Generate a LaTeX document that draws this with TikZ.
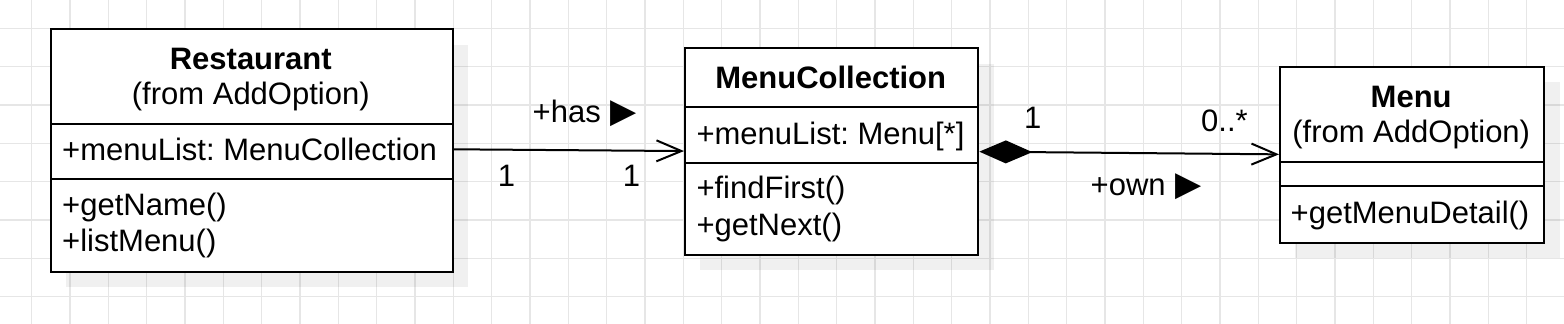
\documentclass[tikz,border=0pt]{standalone}
\usepackage{fontspec}
\setmainfont{Liberation Sans}
\newfontfamily\symfont{DejaVu Sans}
\usetikzlibrary{arrows.meta}
\begin{document}
\frenchspacing
\begin{tikzpicture}[x=1pt,y=-1pt,
  gridline/.style={draw={rgb,255:red,230;green,230;blue,230}, line width=1.2pt},
  shadowbox/.style={fill=black, fill opacity=0.06, draw=none, inner sep=0pt, anchor=north west},
  classbox/.style={draw=black, line width=2pt, fill=white, inner sep=0pt, anchor=north west},
  divider/.style={draw=black, line width=2pt},
  txt/.style={inner sep=0pt, font=\fontsize{31}{36}\selectfont},
  lefttxt/.style={txt, anchor=base west},
  midtxt/.style={txt, anchor=base},
  conn/.style={draw=black, line width=2pt},
  openhead/.style={-{Straight Barb[length=25pt,width=21pt]}},
  comphead/.style={{Diamond[length=53pt,width=23pt,fill=black]}-{Straight Barb[length=25pt,width=21pt]}}
]
\useasboundingbox (0,0) rectangle (1564,324);
\begin{scope}
\clip (0,0) rectangle (1564,324);
\foreach \i in {-1,...,41} \draw[gridline] ({31.667+38.333*\i},-2) -- ++(0,330);
\foreach \j in {-1,...,8} \draw[gridline] (-2,{28.333+38.333*\j}) -- ++(1570,0);
\end{scope}

% shadows
\node[shadowbox, minimum width=401.7pt, minimum height=242.4pt] (restshadow) at (66,44.3) {};
\node[shadowbox, minimum width=293.3pt, minimum height=206.7pt] (mcshadow) at (700,63.3) {};
\node[shadowbox, minimum width=264.3pt, minimum height=175.7pt] (menushadow) at (1295,82) {};

% Restaurant
\node[classbox, minimum width=401.7pt, minimum height=242.4pt] (rest) at (50,28.3) {};
\draw[divider] (rest.west |- 0,124) -- (rest.east |- 0,124);
\draw[divider] (rest.west |- 0,179.3) -- (rest.east |- 0,179.3);
\node[midtxt] (restname) at (250.8,69) {\bfseries Restaurant};
\node[midtxt] (restfrom) at (250.8,104.3) {(from AddOption)};
\node[lefttxt] (restattr) at (62,160.7) {+menuList: MenuCollection};
\node[lefttxt] (restm1) at (62,215) {+getName()};
\node[lefttxt] (restm2) at (62,251.7) {+listMenu()};

% MenuCollection
\node[classbox, minimum width=293.3pt, minimum height=206.7pt] (mc) at (684,47.3) {};
\draw[divider] (mc.west |- 0,107.3) -- (mc.east |- 0,107.3);
\draw[divider] (mc.west |- 0,162.7) -- (mc.east |- 0,162.7);
\node[midtxt] (mcname) at (830.7,88.3) {\bfseries MenuCollection};
\node[lefttxt] (mcattr) at (696.3,144) {+menuList: Menu[*]};
\node[lefttxt] (mcm1) at (696.3,198.5) {+findFirst()};
\node[lefttxt] (mcm2) at (696.3,235) {+getNext()};

% Menu
\node[classbox, minimum width=264.3pt, minimum height=175.7pt] (menu) at (1279,66) {};
\draw[divider] (menu.west |- 0,162.3) -- (menu.east |- 0,162.3);
\draw[divider] (menu.west |- 0,185.7) -- (menu.east |- 0,185.7);
\node[midtxt] (menuname) at (1411.2,107.2) {\bfseries Menu};
\node[midtxt] (menufrom) at (1411.2,142.5) {(from AddOption)};
\node[lefttxt] (menum1) at (1290.5,223.5) {+getMenuDetail()};

% connectors
\draw[conn, openhead] ([yshift=1.2pt]rest.east) -- ([yshift=0.6pt]mc.west);
\draw[conn, comphead] (mc.east) -- ([yshift=0.5pt]menu.west);

% labels
\node[lefttxt] (haslbl) at (532.5,122) {+has\hspace{10pt}{\symfont\fontsize{34}{36}\selectfont ▶}};
\node[midtxt] (m1) at (506.6,186.7) {1};
\node[midtxt] (m2) at (631.4,186.7) {1};
\node[midtxt] (m3) at (1032.8,128.3) {1};
\node[lefttxt] (m4) at (1201,131.5) {0..*};
\node[lefttxt] (ownlbl) at (1090.5,195) {+own\hspace{10pt}{\symfont\fontsize{34}{36}\selectfont ▶}};
\end{tikzpicture}
\end{document}
